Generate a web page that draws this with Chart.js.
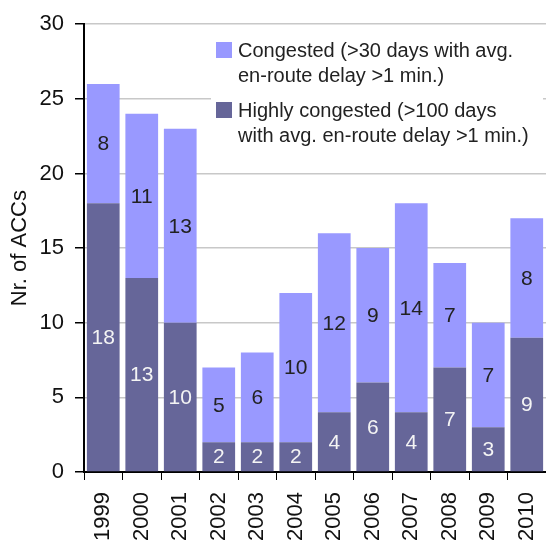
<!DOCTYPE html>
<html>
<head>
<meta charset="utf-8">
<script src="https://cdn.jsdelivr.net/npm/chart.js@4/dist/chart.umd.min.js"></script>
<style>
  html, body { margin: 0; padding: 0; background: #fff; }
  #wrap { width: 546px; height: 546px; }
</style>
</head>
<body>
<div id="wrap"><canvas id="chart"></canvas></div>
<script>
// Data
const years = ['1999', '2000', '2001', '2002', '2003', '2004', '2005', '2006', '2007', '2008', '2009', '2010'];
const highlyCongested = [18, 13, 10, 2, 2, 2, 4, 6, 4, 7, 3, 9];
const congested = [8, 11, 13, 5, 6, 10, 12, 9, 14, 7, 7, 8];
const yTicks = [0, 5, 10, 15, 20, 25, 30];

const legendItems = [
  { color: '#9999ff', lines: ['Congested (>30 days with avg.', 'en-route delay >1 min.)'] },
  { color: '#666699', lines: ['Highly congested (>100 days', 'with avg. en-route delay >1 min.)'] }
];

const FONT = '"Liberation Sans", Arial, sans-serif';

// white box legend drawn over the grid, under the bars
const boxLegend = {
  id: 'boxLegend',
  beforeDatasetsDraw(chart) {
    const ctx = chart.ctx;
    ctx.save();
    ctx.fillStyle = '#fff';
    ctx.fillRect(211, 30, 332, 124);
    ctx.font = '20px ' + FONT;
    ctx.textBaseline = 'alphabetic';
    let y = 57;
    legendItems.forEach(item => {
      ctx.fillStyle = item.color;
      ctx.fillRect(216, y - 15, 16, 16);
      ctx.fillStyle = '#222';
      item.lines.forEach((line, i) => {
        ctx.fillText(line, 238, y + i * 25);
      });
      y += 60;
    });
    ctx.restore();
  }
};

// numbers in the middle of each bar segment
const segLabels = {
  id: 'segLabels',
  afterDatasetsDraw(chart) {
    const ctx = chart.ctx;
    ctx.save();
    ctx.font = '21px ' + FONT;
    ctx.textAlign = 'center';
    ctx.textBaseline = 'middle';
    chart.data.datasets.forEach((ds, di) => {
      const meta = chart.getDatasetMeta(di);
      meta.data.forEach((bar, i) => {
        const mid = (bar.y + bar.base) / 2;
        ctx.fillStyle = di === 0 ? '#f4f4f4' : '#222';
        ctx.fillText(String(ds.data[i]), bar.x, mid + 1);
      });
    });
    ctx.restore();
  }
};

new Chart(document.getElementById('chart'), {
  type: 'bar',
  data: {
    labels: years,
    datasets: [
      {
        label: 'Highly congested',
        data: highlyCongested,
        backgroundColor: '#666699',
        barPercentage: 0.85,
        categoryPercentage: 1
      },
      {
        label: 'Congested',
        data: congested,
        backgroundColor: '#9999ff',
        barPercentage: 0.85,
        categoryPercentage: 1
      }
    ]
  },
  options: {
    responsive: true,
    maintainAspectRatio: false,
    animation: false,
    layout: { padding: { top: 18, right: 0, bottom: 0, left: 0 } },
    plugins: {
      legend: { display: false },
      tooltip: { enabled: false }
    },
    scales: {
      x: {
        stacked: true,
        afterFit: s => {
          s.height = 74;
          s.paddingLeft = 0;
          s.paddingRight = 0;
        },
        grid: {
          offset: true,
          drawOnChartArea: false,
          tickLength: 8,
          tickColor: '#000'
        },
        border: { color: '#000', width: 2 },
        ticks: {
          color: '#111',
          font: { family: FONT, size: 22 },
          minRotation: 90,
          maxRotation: 90,
          padding: 12
        }
      },
      y: {
        stacked: true,
        min: 0,
        max: 30,
        afterFit: s => { s.width = 84; },
        afterBuildTicks: s => { s.ticks = yTicks.map(v => ({ value: v })); },
        grid: {
          color: '#c8c8c8',
          lineWidth: 1.5,
          tickLength: 9,
          tickColor: '#000'
        },
        border: { color: '#000', width: 2 },
        ticks: {
          color: '#111',
          font: { family: FONT, size: 22 },
          padding: 11
        },
        title: {
          display: true,
          text: 'Nr. of ACCs',
          color: '#111',
          font: { family: FONT, size: 22 },
          padding: { top: 7, bottom: 0 }
        }
      }
    }
  },
  plugins: [boxLegend, segLabels]
});
</script>
</body>
</html>
